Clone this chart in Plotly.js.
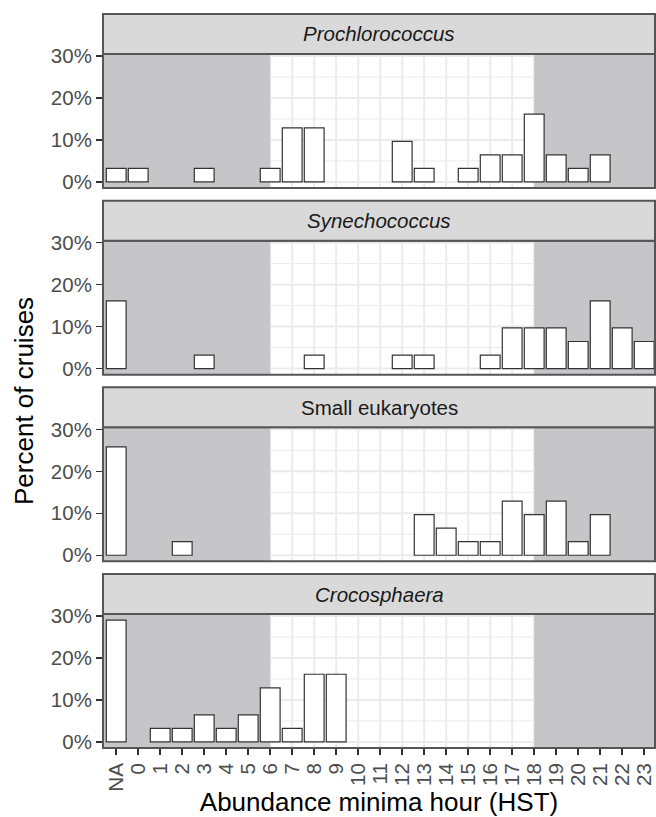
<!DOCTYPE html>
<html><head><meta charset="utf-8">
<script src="https://cdn.plot.ly/plotly-3.0.1.min.js"></script>
<style>html,body{margin:0;padding:0;background:#fff}</style>
</head><body><div id="chart" style="width:656px;height:817px"></div>
<script>
// ---- data ----
const categories = ['NA','0','1','2','3','4','5','6','7','8','9','10','11','12','13','14','15','16','17','18','19','20','21','22','23'];
const panelTitles = ['Prochlorococcus','Synechococcus','Small eukaryotes','Crocosphaera'];
const panelItalic = [true, true, false, true];

const prochlorococcusHours = ['NA','0','3','6','7','8','12','13','15','16','17','18','19','20','21'];
const prochlorococcusPct   = [3.23,3.23,3.23,3.23,12.90,12.90,9.68,3.23,3.23,6.45,6.45,16.13,6.45,3.23,6.45];

const synechococcusHours = ['NA','3','8','12','13','16','17','18','19','20','21','22','23'];
const synechococcusPct   = [16.13,3.23,3.23,3.23,3.23,3.23,9.68,9.68,9.68,6.45,16.13,9.68,6.45];

const eukaryotesHours = ['NA','2','13','14','15','16','17','18','19','20','21'];
const eukaryotesPct   = [25.81,3.23,9.68,6.45,3.23,3.23,12.90,9.68,12.90,3.23,9.68];

const crocosphaeraHours = ['NA','1','2','3','4','5','6','7','8','9'];
const crocosphaeraPct   = [29.03,3.23,3.23,6.45,3.23,6.45,12.90,3.23,16.13,16.13];

const nightEndsAt = '6';     // shaded night until this hour
const nightStartsAt = '18';  // shaded night from this hour
const yMajorTicks = [0, 10, 20, 30];
const yMinorTicks = [5, 15, 25];
const xTitle = 'Abundance minima hour (HST)';
const yTitle = 'Percent of cruises';

const seriesHours = [prochlorococcusHours, synechococcusHours, eukaryotesHours, crocosphaeraHours];
const seriesPct = [prochlorococcusPct, synechococcusPct, eukaryotesPct, crocosphaeraPct];

// ---- layout geometry (pixels) ----
const W = 656, H = 817;
const mL = 103, mR = 1, mT = 14, mB = 69;
const plotH = H - mT - mB;        // 734
const stripH = 40, panelH = 134, gap = 12.67;
const font = 'Liberation Sans, Arial, Helvetica, sans-serif';
const toPaper = p => (H - mB - p) / plotH;
const pxPerCat = 22;
const xRange = [-0.6, -0.6 + (W - mL - mR) / pxPerCat];
const yRange = [-1.45, 30.48];
const gridColor = '#ebebeb';

const data = [];
const layout = {
  width: W, height: H,
  margin: {l: mL, r: mR, t: mT, b: mB, pad: 0},
  paper_bgcolor: '#ffffff', plot_bgcolor: '#ffffff',
  showlegend: false, bargap: 0.1,
  font: {family: font, color: '#4d4d4d'},
  shapes: [], annotations: []
};

for (let k = 0; k < 4; k++) {
  const sfx = k === 0 ? '' : String(k + 1);
  const xa = 'x' + sfx, ya = 'y' + sfx;
  const stripTop = mT + k * (stripH + panelH + gap);
  const stripBot = stripTop + stripH;
  const panelBot = stripBot + panelH;
  const isBottom = k === 3;

  data.push({
    type: 'bar', x: seriesHours[k], y: seriesPct[k],
    xaxis: xa, yaxis: ya, width: 0.9,
    marker: {color: '#ffffff', line: {color: '#333333', width: 1.2}},
    hoverinfo: 'skip'
  });

  layout['xaxis' + sfx] = {
    type: 'category', categoryorder: 'array', categoryarray: categories,
    tickmode: 'array', tickvals: categories, ticktext: categories,
    range: xRange, domain: [0, 1], anchor: ya,
    showgrid: false, zeroline: false, showline: false, automargin: false,
    ticks: isBottom ? 'outside' : '', ticklen: 6, tickwidth: 1.5, tickcolor: '#333333',
    showticklabels: isBottom, tickangle: -90,
    tickfont: {family: font, size: 20.5, color: '#4d4d4d'},
    title: isBottom ? {text: xTitle, standoff: 6, font: {family: font, size: 26, color: '#000000'}} : {text: ''}
  };
  layout['yaxis' + sfx] = {
    domain: [toPaper(panelBot), toPaper(stripBot)], range: yRange, anchor: xa,
    tickmode: 'array', tickvals: yMajorTicks, ticktext: yMajorTicks.map(v => v + '%'),
    showgrid: false, zeroline: false, showline: false, automargin: false,
    ticks: 'outside', ticklen: 6, tickwidth: 1.5, tickcolor: '#333333',
    tickfont: {family: font, size: 20.5, color: '#4d4d4d'}
  };

  // grid lines (drawn as below-layer shapes so the night shading can cover them)
  categories.forEach((c, i) => {
    layout.shapes.push({type: 'line', xref: xa, yref: ya + ' domain', x0: i, x1: i, y0: 0, y1: 1,
      line: {color: gridColor, width: 2}, layer: 'below'});
  });
  yMinorTicks.forEach(v => {
    layout.shapes.push({type: 'line', xref: xa + ' domain', yref: ya, x0: 0, x1: 1, y0: v, y1: v,
      line: {color: gridColor, width: 1}, layer: 'below'});
  });
  yMajorTicks.forEach(v => {
    layout.shapes.push({type: 'line', xref: xa + ' domain', yref: ya, x0: 0, x1: 1, y0: v, y1: v,
      line: {color: gridColor, width: 2}, layer: 'below'});
  });

  // night shading
  const iEnd = categories.indexOf(nightEndsAt);
  const iStart = categories.indexOf(nightStartsAt);
  [[-2, iEnd], [iStart, categories.length + 2]].forEach(([a, b]) => {
    layout.shapes.push({
      type: 'rect', xref: xa, yref: ya + ' domain',
      x0: a, x1: b, y0: 0, y1: 1,
      fillcolor: '#c6c6c8', line: {width: 0}, layer: 'below'
    });
  });
  // panel border
  layout.shapes.push({
    type: 'rect', xref: 'paper', yref: ya + ' domain',
    x0: 0, x1: 1, y0: 0, y1: 1,
    fillcolor: 'rgba(0,0,0,0)', line: {color: '#555555', width: 2}, layer: 'above'
  });
  // strip
  layout.shapes.push({
    type: 'rect', xref: 'paper', yref: 'paper',
    x0: 0, x1: 1, y0: toPaper(stripBot), y1: toPaper(stripTop),
    fillcolor: '#d9d9d9', line: {color: '#555555', width: 2}, layer: 'above'
  });
  layout.annotations.push({
    xref: 'paper', yref: 'paper', x: 0.5, y: toPaper((stripTop + stripBot) / 2),
    xanchor: 'center', yanchor: 'middle', showarrow: false,
    text: panelItalic[k] ? '<i>' + panelTitles[k] + '</i>' : panelTitles[k],
    font: {family: font, size: 20.5, color: '#1a1a1a'}
  });
}

layout.annotations.push({
  xref: 'paper', yref: 'paper', x: (24 - mL) / (W - mL - mR), y: toPaper(401),
  xanchor: 'center', yanchor: 'middle', textangle: -90, showarrow: false,
  text: yTitle, font: {family: font, size: 26, color: '#000000'}
});

Plotly.newPlot('chart', data, layout, {staticPlot: true, displayModeBar: false});
</script>
</body></html>
